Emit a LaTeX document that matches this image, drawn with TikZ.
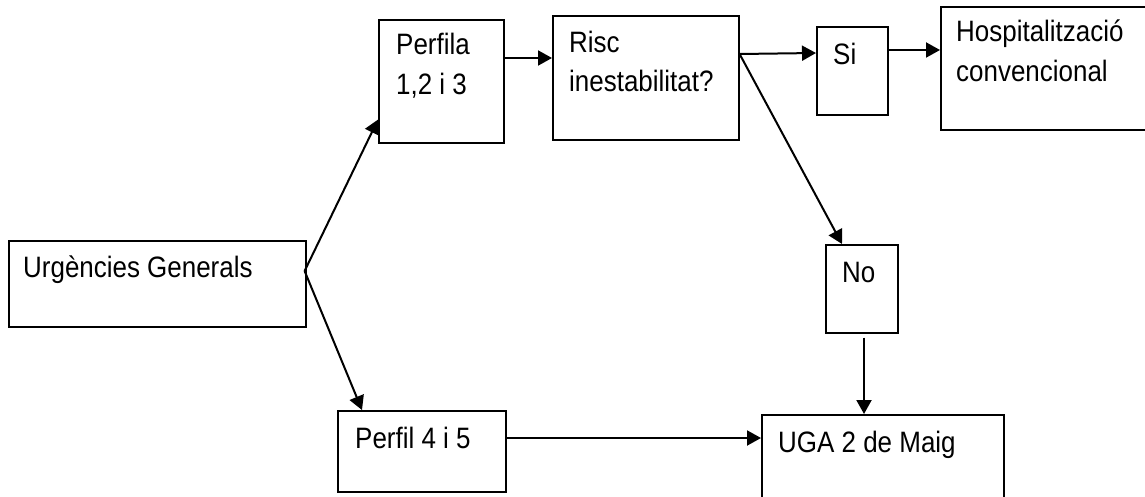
\documentclass[tikz,border=0pt]{standalone}
\usepackage{fontspec}
\setmainfont{Liberation Sans}[FakeStretch=0.88]
\usetikzlibrary{arrows.meta,calc}
\tikzset{
  box/.style={draw, line width=1.6pt, rectangle, inner sep=0pt, anchor=north west},
  lbl/.style={anchor=base west, inner sep=0pt, font=\fontsize{29.5}{40}\selectfont},
  arr/.style={line width=2pt, -{Triangle[length=14pt,width=15pt]}},
}
\begin{document}
\begin{tikzpicture}[x=1pt,y=-1pt]
\clip (0,0) rectangle (1145,497);
\fill[white] (0,0) rectangle (1145,497);
% boxes
\node[box, minimum width=297pt, minimum height=86pt] (u) at (8,240) {};
\node[box, minimum width=125pt, minimum height=123pt] (p1) at (378,19) {};
\node[box, minimum width=186pt, minimum height=124pt] (r) at (552,15) {};
\node[box, minimum width=71pt, minimum height=88pt] (si) at (816,26) {};
\node[box, minimum width=230pt, minimum height=123pt] (h) at (940,6) {};
\node[box, minimum width=72pt, minimum height=88pt] (no) at (825,244) {};
\node[box, minimum width=242pt, minimum height=110pt] (uga) at (761,414) {};
\node[box, minimum width=168pt, minimum height=81pt] (p2) at (337,410) {};
% labels
\node[lbl] (ut) at (23,277) {Urgències Generals};
\node[lbl] (p1a) at (396,55) {Perfila};
\node[lbl] (p1b) at (396,95) {1,2 i 3};
\node[lbl] (ra) at (569,53) {Risc};
\node[lbl] (rb) at (569,92) {inestabilitat?};
\node[lbl] (sit) at (833,65) {Si};
\node[lbl] (ha) at (956,42) {Hospitalització};
\node[lbl] (hb) at (956,82) {convencional};
\node[lbl] (not) at (842,282) {No};
\node[lbl] (ugat) at (778,452) {UGA 2 de Maig};
\node[lbl] (p2t) at (355,448) {Perfil 4 i 5};
% connectors
\coordinate (uo) at ($(u.north east)+(-2,31)$);
\draw[arr] (uo) -- ($(p1.south west)+(0,-24)$);
\draw[arr] (uo) -- ($(p2.north west)+(25,0)$);
\draw[arr] ($(p1.north east)+(0,39)$) -- ($(r.north west)+(0,43)$);
\coordinate (ro) at ($(r.north east)+(0,39)$);
\draw[arr] (ro) -- ($(si.north west)+(0,27)$);
\draw[arr] ($(si.north east)+(0,24)$) -- ($(h.north west)+(0,44)$);
\draw[arr] (ro) -- ($(no.north west)+(17,0)$);
\draw[arr] ($(no.south west)+(39,4)$) -- ($(uga.north west)+(103,0)$);
\draw[arr] ($(p2.north east)+(0,28)$) -- ($(uga.north west)+(0,24)$);
\end{tikzpicture}
\end{document}
